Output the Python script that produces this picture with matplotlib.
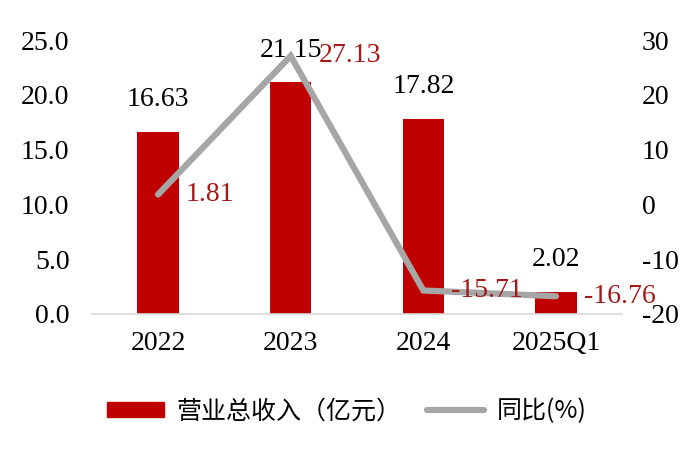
import matplotlib.pyplot as plt
import matplotlib.patches as mpatches
from matplotlib.lines import Line2D

plt.rcParams['axes.unicode_minus'] = False

# data
periods = ['2022', '2023', '2024', '2025Q1']
revenue = [16.63, 21.15, 17.82, 2.02]    # 营业总收入（亿元）
yoy = [1.81, 27.13, -15.71, -16.76]      # 同比(%)

bar_color = '#C00000'
line_color = '#A6A6A6'
pct_color = '#A31A1A'
serif = 'Liberation Serif'

fig = plt.figure(figsize=(7, 4.57), dpi=100)
ax = fig.add_axes([0.131, 0.313, 0.758, 0.599])
ax2 = ax.twinx()

x = list(range(len(periods)))
ax.bar(x, revenue, width=0.31, color=bar_color, zorder=2)
ax.set_xlim(-0.5, 3.5)
ax.set_ylim(0, 25)
ax.set_yticks([0, 5, 10, 15, 20, 25])
ax.set_yticklabels(['%.1f' % v for v in [0, 5, 10, 15, 20, 25]])
ax.set_xticks(x)
ax.set_xticklabels(periods)

ax2.plot(x, yoy, color=line_color, linewidth=4.5, solid_capstyle='round',
         solid_joinstyle='miter', zorder=3)
ax2.set_ylim(-20, 30)
ax2.set_yticks([-20, -10, 0, 10, 20, 30])

for a in (ax, ax2):
    for s in a.spines.values():
        s.set_visible(False)
    a.tick_params(length=0, labelsize=20, labelcolor='black')
    for lab in a.get_xticklabels() + a.get_yticklabels():
        lab.set_fontfamily(serif)
ax.tick_params(axis='y', pad=16)
ax.tick_params(axis='x', pad=12)
ax2.tick_params(axis='y', pad=14)
ax.spines['bottom'].set_visible(True)
ax.spines['bottom'].set_color('#D9D9D9')
ax.spines['bottom'].set_linewidth(1.2)

# value labels
for xi, v in zip(x, revenue):
    ax.annotate('%.2f' % v, (xi, v), xytext=(0, 14), textcoords='offset points',
                ha='center', va='bottom', fontsize=20, family=serif, color='black')
for xi, v in zip(x, yoy):
    ax2.annotate('%.2f' % v, (xi, v), xytext=(20, 0), textcoords='offset points',
                 ha='left', va='center', fontsize=20, family=serif, color=pct_color,
                 zorder=4)

handles = [mpatches.Patch(color=bar_color),
           Line2D([0], [0], color=line_color, linewidth=4.5, solid_capstyle='round')]
labels = ['营业总收入（亿元）', '同比(%)']
fig.legend(handles, labels, loc='center', bbox_to_anchor=(0.495, 0.1), ncol=2,
           frameon=False, prop={'family': ['Noto Sans CJK SC', 'DejaVu Sans'], 'size': 18},
           handlelength=2.3, handleheight=0.6, columnspacing=1.0, handletextpad=0.5)

fig.savefig('out.png', dpi=100)
